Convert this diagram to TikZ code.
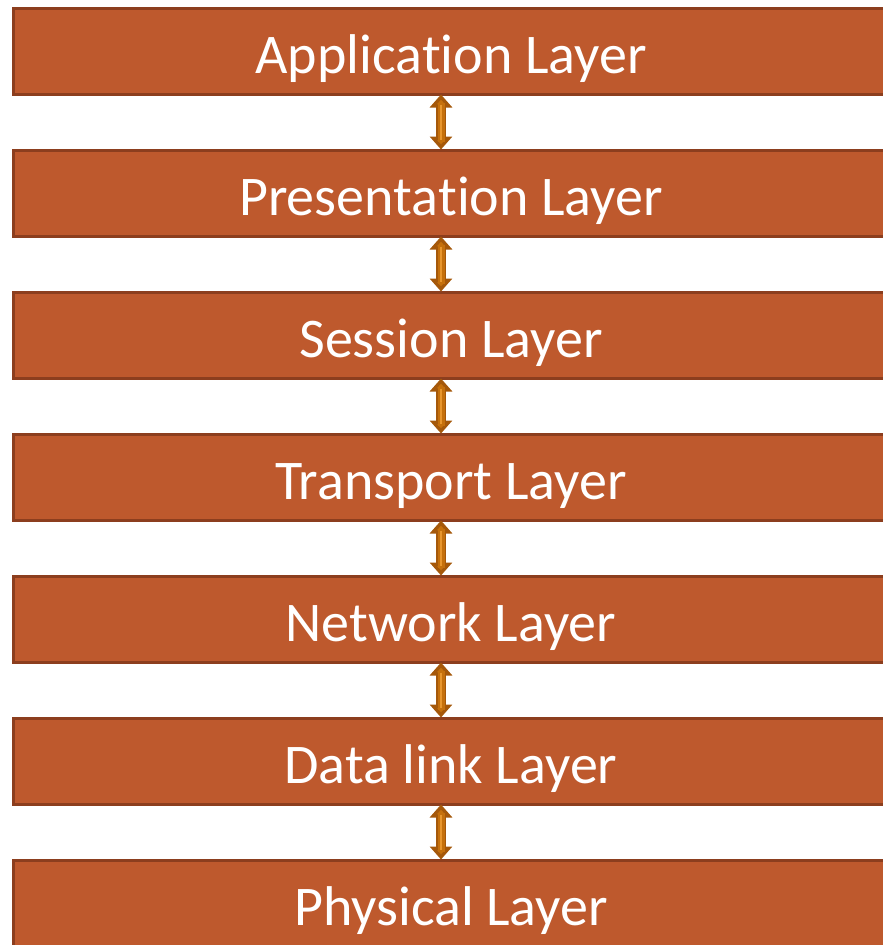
\documentclass[tikz,border=0pt]{standalone}
\usepackage{fontspec}
\setmainfont[Ligatures=NoCommon]{Carlito}
\usetikzlibrary{arrows.meta,positioning}
\definecolor{layerfill}{RGB}{190,89,45}
\definecolor{layerline}{RGB}{140,62,30}
\definecolor{arrowcol}{RGB}{197,112,12}
\definecolor{arrowline}{RGB}{165,88,10}
\definecolor{arrowlite}{RGB}{232,150,45}
\newcommand{\tsolo}{\hbox{t}}% keeps t and i apart
\tikzset{
  layer/.style={rectangle,draw=layerline,fill=layerfill,line width=3pt,
    minimum width=875pt,minimum height=86pt,inner sep=0pt,
    text height=44pt,text depth=0pt,
    text=white,font=\fontsize{56}{60}\selectfont},
  linkouter/.style={draw=arrowline,line width=10pt,
    {Triangle[width=22pt,length=13pt,fill=arrowcol]}-{Triangle[width=22pt,length=13pt,fill=arrowcol]}},
  linkinner/.style={draw=arrowcol,line width=7pt,shorten <=8pt,shorten >=8pt},
  linklite/.style={draw=arrowlite,line width=1.6pt,shorten <=10pt,shorten >=10pt}
}
\begin{document}
\begin{tikzpicture}[x=1pt,y=1pt,node distance=53pt]
\useasboundingbox (0,0) rectangle (883,-945);
\node[layer] (app) at (451,-51) {Applica\tsolo ion Layer};
\node[layer,below=of app] (pres) {Presenta\tsolo ion Layer};
\node[layer,below=of pres] (sess) {Session Layer};
\node[layer,below=of sess] (trans) {Transport Layer};
\node[layer,below=of trans] (net) {Network Layer};
\node[layer,below=of net] (dlink) {Data link Layer};
\node[layer,below=of dlink] (phys) {Physical Layer};
\foreach \upper/\lower in {app/pres,pres/sess,sess/trans,trans/net,net/dlink,dlink/phys}{
  \draw[linkouter] ([xshift=-10pt,yshift=1pt]\upper.south) -- ([xshift=-10pt,yshift=-1pt]\lower.north);
  \draw[linkinner] ([xshift=-10pt,yshift=1pt]\upper.south) -- ([xshift=-10pt,yshift=-1pt]\lower.north);
  \draw[linklite] ([xshift=-10pt,yshift=1pt]\upper.south) -- ([xshift=-10pt,yshift=-1pt]\lower.north);
}
\end{tikzpicture}
\end{document}
